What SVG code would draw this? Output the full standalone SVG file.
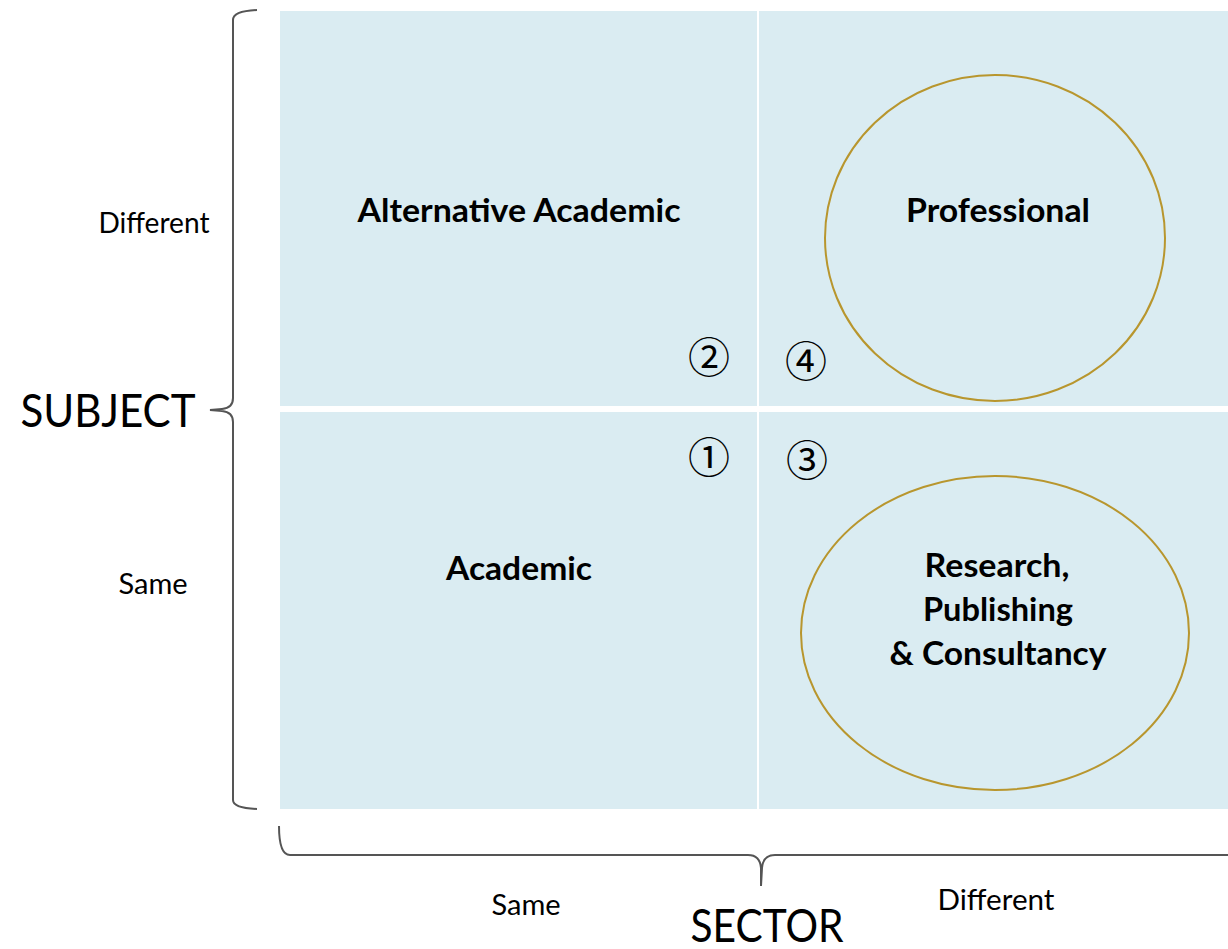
<svg xmlns="http://www.w3.org/2000/svg" width="1228" height="949" viewBox="0 0 1228 949">
<style>
.q{font-family:Lato,"Open Sans","Liberation Sans",sans-serif;font-weight:bold;font-size:32px;fill:#000;text-anchor:middle}
.ax{font-family:Lato,"Open Sans","Liberation Sans",sans-serif;font-size:29px;fill:#000;text-anchor:middle}
.big{font-family:Lato,"Open Sans","Liberation Sans",sans-serif;font-size:46px;fill:#000;text-anchor:middle}
.num{font-family:"Noto Sans CJK JP","DejaVu Sans",sans-serif;font-size:42px;fill:#000;text-anchor:middle}
.ring{fill:none;stroke:#b8962e;stroke-width:2}
.brace{fill:none;stroke:#555;stroke-width:2}
</style>
<rect width="1228" height="949" fill="#fff"/>
<g id="grid">
<rect x="280" y="11" width="948" height="798" fill="#daecf2"/>
<rect x="280" y="406" width="948" height="6" fill="#fff"/>
<rect x="757" y="11" width="2" height="798" fill="#fff"/>
</g>
<g id="braces">
<path class="brace" d="M257,10 Q233,11 233,20 L233,398 Q233,408 222,409 L210,410 L222,411 Q233,412 233,422 L233,800 Q233,808 257,809"/>
<path class="brace" d="M279,826 Q279,855 290,855 L748,855 Q760,855 761,868 L761,886 L762,868 Q763,855 775,855 L1228,855"/>
</g>
<g id="alt-academic"><text class="q" x="519" y="222" textLength="323" lengthAdjust="spacingAndGlyphs">Alternative Academic</text></g>
<g id="professional">
<ellipse class="ring" cx="995" cy="238" rx="170" ry="163"/>
<text class="q" x="998" y="222" textLength="184" lengthAdjust="spacingAndGlyphs">Professional</text>
</g>
<g id="academic"><text class="q" x="519" y="580" textLength="146" lengthAdjust="spacingAndGlyphs">Academic</text></g>
<g id="research">
<ellipse class="ring" cx="995" cy="633" rx="194" ry="157"/>
<text class="q" x="997" y="577" textLength="145" lengthAdjust="spacingAndGlyphs">Research,</text>
<text class="q" x="998" y="621" textLength="150" lengthAdjust="spacingAndGlyphs">Publishing</text>
<text class="q" x="998" y="665" textLength="217" lengthAdjust="spacingAndGlyphs">&amp; Consultancy</text>
</g>
<g id="markers">
<text class="num" x="709" y="373">②</text>
<text class="num" x="806" y="377">④</text>
<text class="num" x="709" y="473">①</text>
<text class="num" x="807" y="476">③</text>
</g>
<g id="labels">
<text class="ax" x="154" y="233" textLength="111" lengthAdjust="spacingAndGlyphs">Different</text>
<text class="ax" x="153" y="594">Same</text>
<text class="big" x="108" y="427" textLength="175" lengthAdjust="spacingAndGlyphs">SUBJECT</text>
<text class="ax" x="526" y="915">Same</text>
<text class="ax" x="996" y="910" textLength="117" lengthAdjust="spacingAndGlyphs">Different</text>
<text class="big" x="767" y="942" textLength="153" lengthAdjust="spacingAndGlyphs">SECTOR</text>
</g>
</svg>
